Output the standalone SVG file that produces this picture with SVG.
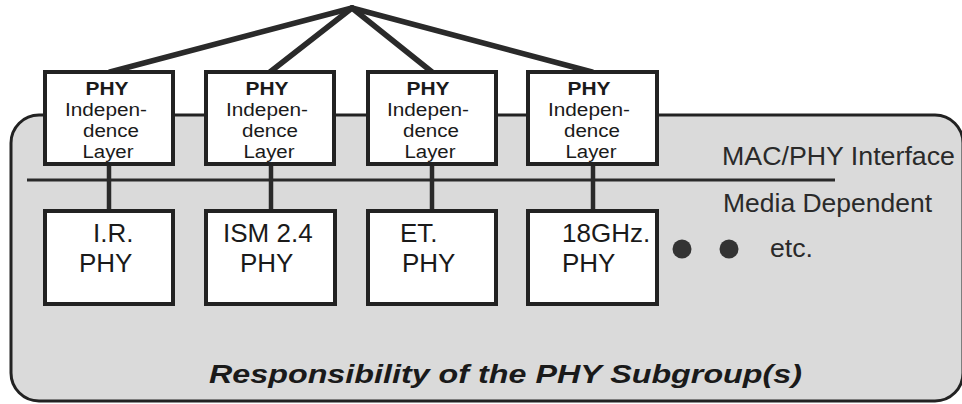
<svg xmlns="http://www.w3.org/2000/svg" width="962" height="404" viewBox="0 0 962 404">
<style>
  .box { fill: #ffffff; stroke: #222; stroke-width: 4; }
  .conn { stroke: #2a2a2a; stroke-width: 5.5; fill: none; stroke-linecap: round; }
  .vconn { stroke: #2a2a2a; stroke-width: 4.5; fill: none; }
  .t { font-family: "Liberation Sans", Arial, sans-serif; fill: #1a1a1a; }
  .hdr { font-size: 18px; font-weight: bold; }
  .sm { font-size: 18px; }
  .big { font-size: 26px; }
  .lbl { font-size: 25px; fill: #2a2a2a; }
</style>
<g id="region">
  <rect x="11" y="115" width="952" height="286" rx="28" ry="28" fill="#dadada" stroke="#222" stroke-width="3"/>
  <line x1="27" y1="180" x2="835" y2="180" stroke="#2a2a2a" stroke-width="3"/>
  <text class="t lbl" x="722" y="165" textLength="233" lengthAdjust="spacingAndGlyphs">MAC/PHY Interface</text>
  <text class="t lbl" x="723" y="212" textLength="209" lengthAdjust="spacingAndGlyphs">Media Dependent</text>
  <text class="t lbl" x="770" y="257" textLength="43" lengthAdjust="spacingAndGlyphs">etc.</text>
  <circle cx="682" cy="249" r="9.5" fill="#333"/>
  <circle cx="729" cy="249" r="9.5" fill="#333"/>
  <text class="t" x="209" y="383" font-size="26" font-weight="bold" font-style="italic" fill="#333" textLength="593" lengthAdjust="spacingAndGlyphs">Responsibility of the PHY Subgroup(s)</text>
</g>
<g id="connectors">
  <line class="conn" x1="352" y1="8" x2="110" y2="72"/>
  <line class="conn" x1="352" y1="8" x2="270" y2="72"/>
  <line class="conn" x1="352" y1="8" x2="432" y2="72"/>
  <line class="conn" x1="352" y1="8" x2="592" y2="72"/>
  <line class="vconn" x1="109" y1="164" x2="109" y2="211"/>
  <line class="vconn" x1="271" y1="164" x2="271" y2="211"/>
  <line class="vconn" x1="432" y1="164" x2="432" y2="211"/>
  <line class="vconn" x1="593" y1="164" x2="593" y2="211"/>
</g>
<g id="pil1">
  <rect class="box" x="45" y="72" width="128" height="92"/>
  <text class="t hdr" x="107" y="95" text-anchor="middle" textLength="43" lengthAdjust="spacingAndGlyphs">PHY</text>
  <text class="t sm" x="106" y="116" text-anchor="middle" textLength="82" lengthAdjust="spacingAndGlyphs">Indepen-</text>
  <text class="t sm" x="111" y="137" text-anchor="middle" textLength="56" lengthAdjust="spacingAndGlyphs">dence</text>
  <text class="t sm" x="108" y="158" text-anchor="middle" textLength="51" lengthAdjust="spacingAndGlyphs">Layer</text>
</g>
<g id="pil2">
  <rect class="box" x="206" y="72" width="128" height="92"/>
  <text class="t hdr" x="267" y="95" text-anchor="middle" textLength="43" lengthAdjust="spacingAndGlyphs">PHY</text>
  <text class="t sm" x="267" y="116" text-anchor="middle" textLength="82" lengthAdjust="spacingAndGlyphs">Indepen-</text>
  <text class="t sm" x="270" y="137" text-anchor="middle" textLength="56" lengthAdjust="spacingAndGlyphs">dence</text>
  <text class="t sm" x="269" y="158" text-anchor="middle" textLength="51" lengthAdjust="spacingAndGlyphs">Layer</text>
</g>
<g id="pil3">
  <rect class="box" x="368" y="72" width="128" height="92"/>
  <text class="t hdr" x="428" y="95" text-anchor="middle" textLength="43" lengthAdjust="spacingAndGlyphs">PHY</text>
  <text class="t sm" x="428" y="116" text-anchor="middle" textLength="82" lengthAdjust="spacingAndGlyphs">Indepen-</text>
  <text class="t sm" x="431" y="137" text-anchor="middle" textLength="56" lengthAdjust="spacingAndGlyphs">dence</text>
  <text class="t sm" x="430" y="158" text-anchor="middle" textLength="51" lengthAdjust="spacingAndGlyphs">Layer</text>
</g>
<g id="pil4">
  <rect class="box" x="528" y="72" width="129" height="92"/>
  <text class="t hdr" x="589" y="95" text-anchor="middle" textLength="43" lengthAdjust="spacingAndGlyphs">PHY</text>
  <text class="t sm" x="589" y="116" text-anchor="middle" textLength="82" lengthAdjust="spacingAndGlyphs">Indepen-</text>
  <text class="t sm" x="592" y="137" text-anchor="middle" textLength="56" lengthAdjust="spacingAndGlyphs">dence</text>
  <text class="t sm" x="591" y="158" text-anchor="middle" textLength="51" lengthAdjust="spacingAndGlyphs">Layer</text>
</g>
<g id="phy1">
  <rect class="box" x="45" y="211" width="128" height="93"/>
  <text class="t big" x="93" y="242">I.R.</text>
  <text class="t big" x="79" y="272">PHY</text>
</g>
<g id="phy2">
  <rect class="box" x="206" y="211" width="129" height="93"/>
  <text class="t big" x="223" y="242">ISM 2.4</text>
  <text class="t big" x="240" y="272">PHY</text>
</g>
<g id="phy3">
  <rect class="box" x="368" y="211" width="128" height="93"/>
  <text class="t big" x="400" y="242">ET.</text>
  <text class="t big" x="402" y="272">PHY</text>
</g>
<g id="phy4">
  <rect class="box" x="528" y="211" width="129" height="93"/>
  <text class="t big" x="562" y="242">18GHz.</text>
  <text class="t big" x="562" y="272">PHY</text>
</g>
</svg>
